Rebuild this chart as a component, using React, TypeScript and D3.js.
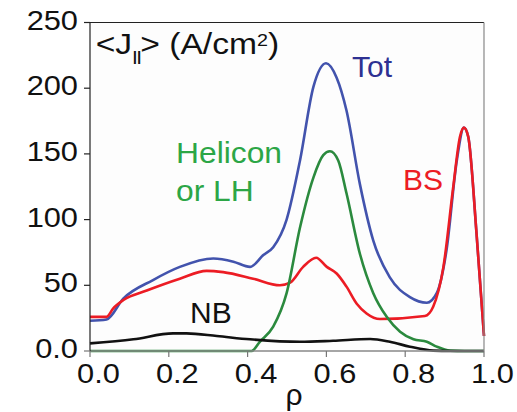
import React from "react";
import * as d3 from "d3";

// Flux-surface averaged parallel current density profiles vs normalized radius
const totRho = [0, 0.042, 0.085, 0.16, 0.228, 0.313, 0.364, 0.406, 0.44, 0.465, 0.499, 0.533, 0.567, 0.599, 0.626, 0.651, 0.685, 0.719, 0.761, 0.812, 0.855, 0.88, 0.905, 0.931, 0.949, 0.96, 0.981, 1.0];
const totJ = [23, 24, 40, 54, 64, 70.4, 68, 64, 73, 79, 100, 145, 201, 219, 208, 183, 127, 84, 56, 41, 36.7, 44, 77, 145, 170, 163, 89.6, 11.4];

const bsRho = [0, 0.042, 0.059, 0.085, 0.144, 0.228, 0.296, 0.338, 0.414, 0.482, 0.508, 0.541, 0.574, 0.601, 0.626, 0.651, 0.677, 0.702, 0.736, 0.85, 0.871, 0.897, 0.922, 0.939, 0.949, 0.96, 0.981, 1.0];
const bsJ = [26, 26, 32.4, 38.8, 46, 55, 61, 60, 55, 50, 52, 64, 71, 64, 59, 49, 36, 28.6, 24.3, 26.6, 33.7, 64, 125, 163, 170, 163, 89.6, 11.4];

const rfRho = [0, 0.41, 0.431, 0.465, 0.499, 0.533, 0.567, 0.592, 0.609, 0.63, 0.651, 0.685, 0.719, 0.753, 0.787, 0.821, 0.855, 0.88, 0.914, 0.95, 1.0];
const rfJ = [0, 0, 7, 18.5, 44, 94, 132, 149, 152, 145, 120, 74, 44, 26, 14.7, 8.9, 7, 3.3, 0.3, 0, 0];

const nbRho = [0, 0.11, 0.211, 0.245, 0.322, 0.406, 0.533, 0.617, 0.711, 0.761, 0.812, 0.871, 0.914, 1.0];
const nbJ = [5.8, 8.9, 13.4, 13.4, 11.4, 8.9, 7, 7.8, 9.1, 7, 3.3, 0.3, 0, 0];

const xTicks = [0, 0.2, 0.4, 0.6, 0.8, 1.0];
const yTicks = [0, 50, 100, 150, 200, 250];
const yTickLabels = ["0.0", "50", "100", "150", "200", "250"];

const W = 517;
const H = 412;
const FONT = "'Liberation Sans', Arial, Helvetica, sans-serif";
const TICK_STRETCH = 1.1;

export default function App() {
  const x = d3.scaleLinear().domain([0, 1]).range([90, 484]);
  const y = d3.scaleLinear().domain([0, 250]).range([351, 22.5]);

  const line = d3
    .line<[number, number]>()
    .x((d) => x(d[0]))
    .y((d) => y(d[1]))
    .curve(d3.curveMonotoneX);

  const zip = (a: number[], b: number[]) => a.map((v, i) => [v, b[i]] as [number, number]);

  const series = [
    { pts: zip(totRho, totJ), color: "#4253ad" },
    { pts: zip(bsRho, bsJ), color: "#ec1c24" },
    { pts: zip(rfRho, rfJ), color: "#2b8a3e" },
    { pts: zip(nbRho, nbJ), color: "#111111" },
  ];

  const [x0, x1] = x.range();
  const [y0, y1] = y.range();

  return (
    <svg
      width={W}
      height={H}
      style={{ position: "absolute", left: 0, top: 0, background: "#fff" }}
      fontFamily={FONT}
    >
      <rect x={x0} y={y1} width={x1 - x0} height={y0 - y1} fill="#fdfdfd" />

      {series.map((s, i) => (
        <path key={i} d={line(s.pts) ?? ""} fill="none" stroke={s.color} strokeWidth={2.6} strokeLinejoin="round" />
      ))}

      {/* frame */}
      <line x1={x0} x2={x1} y1={y1} y2={y1} stroke="#222" strokeWidth={1.2} />
      <line x1={x1} x2={x1} y1={y1} y2={y0} stroke="#888" strokeWidth={1.2} />
      <line x1={x0} x2={x1} y1={y0} y2={y0} stroke="#888" strokeWidth={1.4} />
      <line x1={x0} x2={x0} y1={y1} y2={y0} stroke="#222" strokeWidth={1.2} />

      {/* y axis */}
      {yTicks.map((t, i) => (
        <g key={t}>
          <line x1={x0 - 6} x2={x0} y1={y(t)} y2={y(t)} stroke={i === 0 ? "#777" : "#222"} strokeWidth={1.2} />
          <text
            transform={`translate(78,${y(t) + 7}) scale(${TICK_STRETCH},1)`}
            textAnchor="end"
            fontSize={28}
            fill="#111"
          >
            {yTickLabels[i]}
          </text>
        </g>
      ))}

      {/* x axis */}
      {xTicks.map((t) => (
        <g key={t}>
          <line x1={x(t)} x2={x(t)} y1={y0} y2={y0 + 6} stroke="#777" strokeWidth={1.2} />
          <text
            transform={`translate(${x(t) + 8.5},383) scale(${TICK_STRETCH},1)`}
            textAnchor="middle"
            fontSize={28}
            fill="#111"
          >
            {t.toFixed(1)}
          </text>
        </g>
      ))}
      <text x={294} y={405} textAnchor="middle" fontSize={30} fill="#111">
        ρ
      </text>

      {/* quantity label */}
      <g transform="translate(98,0) scale(1.16,1) translate(-95,0)">
        <text x={93} y={54.5} fontSize={29} fill="#111">
          {"<J"}
          <tspan fontSize={18} dy={10} letterSpacing={-1.5}>II</tspan>
          <tspan dy={-10}>{"> (A/cm"}</tspan>
          <tspan fontSize={17} dy={-8}>2</tspan>
          <tspan dy={8}>)</tspan>
        </text>
      </g>

      {/* series labels */}
      <text x={352} y={77} fontSize={30} fill="#2e3192">Tot</text>
      <g transform="translate(176,0) scale(1.06,1) translate(-176,0)">
        <text x={176} y={163} fontSize={30} fill="#2ca646">Helicon</text>
        <text x={176} y={201} fontSize={30} fill="#2ca646">or LH</text>
      </g>
      <text x={403} y={190} fontSize={30} fill="#ec1c24">BS</text>
      <text x={190} y={323} fontSize={30} fill="#111">NB</text>
    </svg>
  );
}
